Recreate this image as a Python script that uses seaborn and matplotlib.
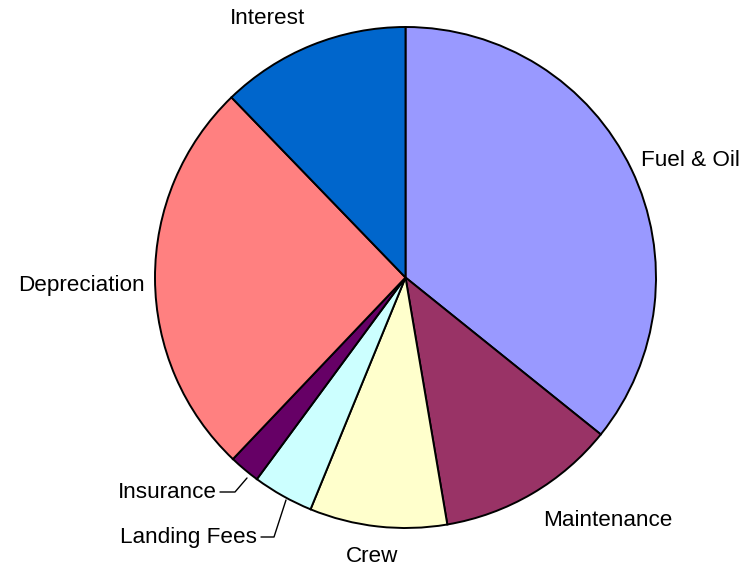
import matplotlib
matplotlib.use("Agg")
import matplotlib.pyplot as plt
import seaborn as sns

# Operating cost breakdown (share of total, %)
categories = ["Fuel & Oil", "Maintenance", "Crew", "Landing Fees",
              "Insurance", "Depreciation", "Interest"]
shares = [35.78, 11.56, 8.86, 3.92, 1.99, 25.68, 12.23]
colors = ["#9999FF", "#993366", "#FFFFCC", "#CCFFFF",
          "#660066", "#FF8080", "#0066CC"]

sns.set_theme(style="white")
plt.rcParams["font.family"] = ["Liberation Sans", "DejaVu Sans"]

W, H, DPI = 752, 567, 100
CX, CY, R = 405.5, 277.5, 250.5  # pie centre and radius in pixels


def px(x, y):
    """Pixel position (origin top-left) to data coordinates (unit pie)."""
    return (x - CX) / R, (CY - y) / R


fig = plt.figure(figsize=(W / DPI, H / DPI), dpi=DPI)
ax = fig.add_axes([0, 0, 1, 1])
ax.pie(shares, colors=colors, startangle=90, counterclock=False,
       radius=1.0, center=(0, 0),
       wedgeprops=dict(edgecolor="black", linewidth=1.4))
ax.set_xlim(-CX / R, (W - CX) / R)
ax.set_ylim(-(H - CY) / R, CY / R)
ax.set_aspect("auto")
ax.axis("off")

fs = 16.2
label_layout = {
    "Interest": ((268, 19), "center"),
    "Fuel & Oil": ((641, 160), "left"),
    "Maintenance": ((543, 521), "left"),
    "Crew": ((372, 556), "center"),
    "Depreciation": ((145, 285), "right"),
    "Insurance": ((217, 492), "right"),
    "Landing Fees": ((257, 537), "right"),
}
for name in categories:
    (x, y), ha = label_layout[name]
    ax.text(*px(x, y), name, ha=ha, va="center", fontsize=fs, color="black")

# leader lines for the two narrow slices
for pts in ([(247, 478), (235, 492), (220, 492)],
            [(286, 500), (274, 537), (261, 537)]):
    xs, ys = zip(*[px(*p) for p in pts])
    ax.plot(xs, ys, color="black", linewidth=1.0)

fig.savefig("out.png", dpi=DPI, facecolor="white")
